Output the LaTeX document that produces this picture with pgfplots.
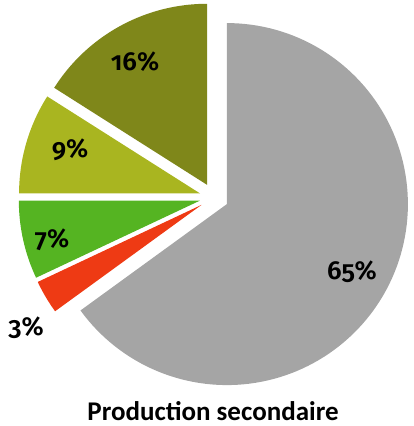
\documentclass[border=0pt]{standalone}
\usepackage{pgfplots}
\pgfplotsset{compat=1.18}
\usepackage{fontspec}
\setmainfont{Carlito}
\newfontfamily\numfont{Fira Sans}[Numbers=OldStyle,BoldFont={* SemiBold}]
\definecolor{cgrey}{HTML}{A5A5A5}
\definecolor{cred}{HTML}{EE3A14}
\definecolor{cgreen}{HTML}{55B422}
\definecolor{cyell}{HTML}{A9B520}
\definecolor{colive}{HTML}{7F871A}
% pie geometry (axis units = px of the reference)
\def\cx{214}\def\cy{228.5}\def\R{181}\def\ex{14.5}
% #1 start angle, #2 percent, #3 colour (slices run clockwise)
\newcommand\pieslice[3]{%
  \pgfmathsetmacro\sA{#1}%
  \pgfmathsetmacro\sB{#1-3.6*#2}%
  \pgfmathsetmacro\sM{(\sA+\sB)/2}%
  \pgfmathsetmacro\vx{\cx+\ex*cos(\sM)}%
  \pgfmathsetmacro\vy{\cy+\ex*sin(\sM)}%
  \edef\doit{\noexpand\addplot[fill=#3,draw=none,domain=\sB:\sA,samples=120]
    ({\vx+\R*cos(x)},{\vy+\R*sin(x)}) -- (axis cs:\vx,\vy) -- cycle;}%
  \doit
}
\begin{document}
\begin{tikzpicture}
\begin{axis}[width=413pt,height=426pt,scale only axis,
  xmin=0,xmax=413,ymin=0,ymax=426,hide axis,clip=false]
\path (rel axis cs:0,0) rectangle (rel axis cs:1,1);
\pieslice{90}{65}{cgrey}
\pieslice{-144}{3}{cred}
\pieslice{-154.8}{7}{cgreen}
\pieslice{-180}{9}{cyell}
\pieslice{-212.4}{16}{colive}
\begin{scope}[every node/.style={font=\fontsize{26}{26}\numfont\bfseries\selectfont}]
\node at (axis cs:135,364) {16\%};
\node at (axis cs:70,276) {9\%};
\node at (axis cs:52,186) {7\%};
\node at (axis cs:26,98) {3\%};
\node at (axis cs:352,154) {65\%};
\end{scope}
\node[font=\fontsize{27}{27}\selectfont\bfseries] at (axis cs:213,15) {Production secondaire};
\end{axis}
\end{tikzpicture}
\end{document}
